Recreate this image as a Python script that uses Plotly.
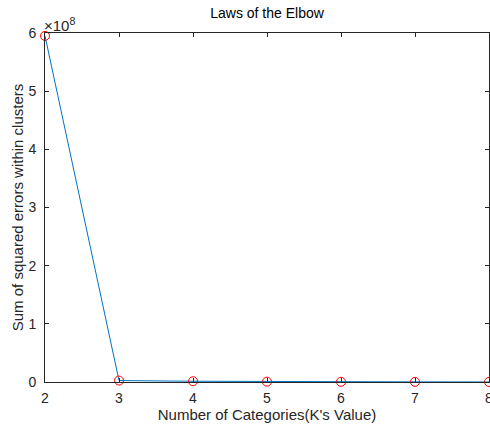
import plotly.graph_objects as go

k_values = [2, 3, 4, 5, 6, 7, 8]
sse = [5.95e8, 2.5e6, 1.3e6, 6e5, 3.5e5, 2.2e5, 1.2e5]
y_tickvals = [0, 1e8, 2e8, 3e8, 4e8, 5e8, 6e8]
y_ticktext = ["0", "1", "2", "3", "4", "5", "6"]
x_tickvals = [2, 3, 4, 5, 6, 7, 8]

axis_color = "#262626"
font_family = "Liberation Sans, Arial, sans-serif"

fig = go.Figure()
fig.add_trace(go.Scatter(
    x=k_values, y=sse, mode="lines+markers",
    line=dict(color="#0072BD", width=1),
    marker=dict(symbol="circle-open", size=9, color="#FF0000", line=dict(width=1)),
    cliponaxis=False, showlegend=False,
))

fig.update_layout(
    width=490, height=425,
    margin=dict(l=45, r=1, t=33, b=43, autoexpand=False),
    paper_bgcolor="white", plot_bgcolor="white",
    font=dict(family=font_family, size=14, color=axis_color),
    title=dict(text="Laws of the Elbow", x=0.545, xanchor="center",
               y=0.97, yanchor="middle", font=dict(size=14, color="black")),
    xaxis=dict(range=[2, 8], tickvals=x_tickvals, ticks="inside", ticklen=4,
               showline=True, linecolor=axis_color, linewidth=1, mirror="ticks",
               showgrid=False, zeroline=False, tickcolor=axis_color,
               ticklabeloverflow="allow", automargin=False, ticklabelstandoff=3,
               title=dict(text="Number of Categories(K's Value)", standoff=2,
                          font=dict(size=15))),
    yaxis=dict(range=[0, 6e8], tickvals=y_tickvals, ticktext=y_ticktext,
               ticks="inside", ticklen=4, showline=True, linecolor=axis_color,
               linewidth=1, mirror="ticks", showgrid=False, zeroline=False,
               tickcolor=axis_color, automargin=False, ticklabelstandoff=5,
               title=dict(text="Sum of squared errors within clusters", standoff=1,
                          font=dict(size=15))),
    annotations=[dict(text="×10<sup>8</sup>", xref="paper", yref="paper",
                      x=0, y=1, xanchor="left", yanchor="bottom", showarrow=False,
                      font=dict(size=15, color=axis_color), xshift=-3, yshift=-3)],
)

fig.write_html("out.html", config={"displayModeBar": False},
               post_script="document.body.style.margin='0';document.body.style.overflow='hidden';")
